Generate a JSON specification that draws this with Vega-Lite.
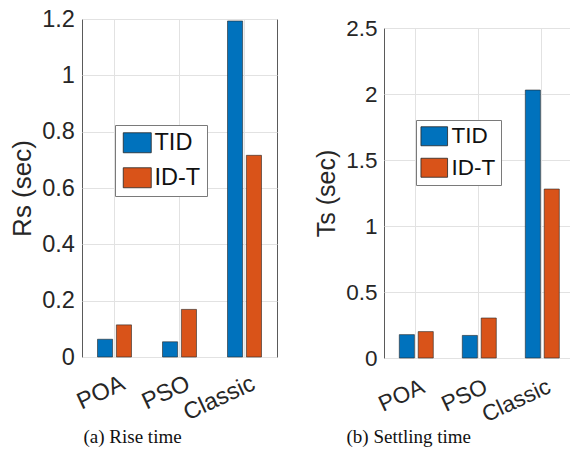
{
  "$schema": "https://vega.github.io/schema/vega-lite/v6.json",
  "background": "white",
  "padding": {"left": 8, "top": 6, "right": 0, "bottom": 2},
  "datasets": {
    "rise": [
      {"method": "POA", "type": "TID", "value": 0.063},
      {"method": "POA", "type": "ID-T", "value": 0.114},
      {"method": "PSO", "type": "TID", "value": 0.054},
      {"method": "PSO", "type": "ID-T", "value": 0.169},
      {"method": "Classic", "type": "TID", "value": 1.193},
      {"method": "Classic", "type": "ID-T", "value": 0.716}
    ],
    "settle": [
      {"method": "POA", "type": "TID", "value": 0.177},
      {"method": "POA", "type": "ID-T", "value": 0.2},
      {"method": "PSO", "type": "TID", "value": 0.171},
      {"method": "PSO", "type": "ID-T", "value": 0.303},
      {"method": "Classic", "type": "TID", "value": 2.03},
      {"method": "Classic", "type": "ID-T", "value": 1.28}
    ],
    "blank": [{"k": 1}]
  },
  "spacing": 35,
  "hconcat": [
    {
      "width": 195,
      "height": 338,
      "data": {"name": "rise"},
      "mark": {"type": "bar", "stroke": "#262626", "strokeWidth": 0.6},
      "encoding": {
        "x": {
          "field": "method", "type": "nominal", "sort": ["POA", "PSO", "Classic"],
          "scale": {"paddingInner": 0.477, "paddingOuter": 0.2385},
          "axis": {
            "labelAngle": -25, "labelFontSize": 23.5, "labelPadding": 14, "labelOffset": 4,
            "title": "(a)  Rise time", "titleFont": "Liberation Serif", "titleFontSize": 19,
            "titleFontWeight": "normal", "titleColor": "#111", "titleAnchor": "start",
            "titleAlign": "left", "titleBaseline": "alphabetic", "titleX": 1, "titleY": 85
          }
        },
        "xOffset": {
          "field": "type", "type": "nominal", "sort": ["TID", "ID-T"],
          "scale": {"paddingInner": 0.2, "paddingOuter": 0}
        },
        "y": {
          "field": "value", "type": "quantitative",
          "scale": {"domain": [0, 1.2], "nice": false, "zero": true},
          "axis": {
            "values": [0, 0.2, 0.4, 0.6, 0.8, 1, 1.2], "format": "~g",
            "title": "Rs (sec)", "labelFontSize": 23.5, "titleFontSize": 26,
            "labelPadding": 7.7, "titlePadding": 6.6
          }
        },
        "color": {
          "field": "type", "type": "nominal",
          "scale": {"domain": ["TID", "ID-T"], "range": ["#0072BD", "#D95319"]},
          "legend": {
            "orient": "none", "legendX": 33, "legendY": 106, "title": null,
            "labelFontSize": 23.5, "padding": 6, "symbolOffset": 4.5,
            "symbolSize": 400, "labelOffset": 5.5, "rowPadding": 10
          }
        }
      }
    },
    {
      "spacing": 0,
      "bounds": "flush",
      "vconcat": [
        {
          "width": 189,
          "height": 9,
          "data": {"name": "blank"},
          "view": {"stroke": null},
          "mark": {"type": "point", "opacity": 0},
          "encoding": {}
        },
        {
          "width": 189,
          "height": 330,
          "data": {"name": "settle"},
          "mark": {"type": "bar", "stroke": "#262626", "strokeWidth": 0.6},
          "encoding": {
            "x": {
              "field": "method", "type": "nominal", "sort": ["POA", "PSO", "Classic"],
              "scale": {"paddingInner": 0.486, "paddingOuter": 0.243},
              "axis": {
                "labelAngle": -25, "labelFontSize": 22.5, "labelPadding": 17, "labelOffset": 3,
                "title": "(b)  Settling time", "titleFont": "Liberation Serif", "titleFontSize": 19,
                "titleFontWeight": "normal", "titleColor": "#111", "titleAnchor": "start",
                "titleAlign": "left", "titleBaseline": "alphabetic", "titleX": -38, "titleY": 84
              }
            },
            "xOffset": {
              "field": "type", "type": "nominal", "sort": ["TID", "ID-T"],
              "scale": {"paddingInner": 0.2, "paddingOuter": 0}
            },
            "y": {
              "field": "value", "type": "quantitative",
              "scale": {"domain": [0, 2.5], "nice": false, "zero": true},
              "axis": {
                "values": [0, 0.5, 1, 1.5, 2, 2.5], "format": "~g",
                "title": "Ts (sec)", "labelFontSize": 22.5, "titleFontSize": 25,
                "labelPadding": 7, "titlePadding": 6.7
              }
            },
            "color": {
              "field": "type", "type": "nominal",
              "scale": {"domain": ["TID", "ID-T"], "range": ["#0072BD", "#D95319"]},
              "legend": {
                "orient": "none", "legendX": 32, "legendY": 101, "title": null,
                "labelFontSize": 22.5, "padding": 5, "symbolOffset": 2,
                "symbolSize": 361, "labelOffset": 6, "rowPadding": 8.5
              }
            }
          }
        }
      ]
    }
  ],
  "resolve": {"scale": {"color": "shared"}, "legend": {"color": "independent"}},
  "config": {
    "font": "Liberation Sans",
    "view": {"stroke": "#5a5a5a", "strokeWidth": 1},
    "axis": {
      "labelFont": "Liberation Sans", "labelColor": "#262626",
      "titleFont": "Liberation Sans", "titleColor": "#262626", "titleFontWeight": "normal",
      "domain": false, "ticks": false, "grid": true, "gridColor": "#e2e2e2", "gridWidth": 1,
      "bandPosition": 0.5
    },
    "legend": {
      "symbolType": "M-1.4,-1L1.4,-1L1.4,1L-1.4,1Z",
      "symbolStrokeColor": "#262626", "symbolStrokeWidth": 0.8,
      "symbolOpacity": 1, "symbolFillColor": null,
      "labelFont": "Liberation Sans", "labelColor": "#111",
      "strokeColor": "#7a7a7a", "fillColor": "white", "labelLimit": 200
    }
  }
}
